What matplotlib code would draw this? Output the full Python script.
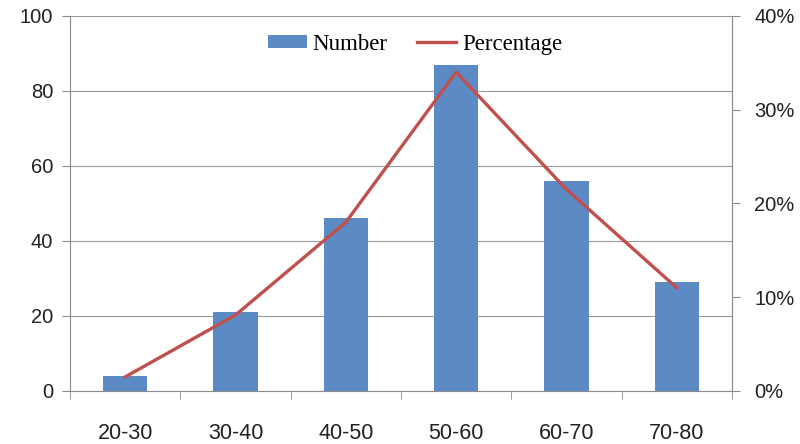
import matplotlib
matplotlib.use("Agg")
import matplotlib.pyplot as plt
import numpy as np
from matplotlib.ticker import FuncFormatter

# age groups, counts and their share
age_groups = ["20-30", "30-40", "40-50", "50-60", "60-70", "70-80"]
number = [4, 21, 46, 87, 56, 29]
percentage = [1.5, 8.1, 18.0, 34.0, 21.5, 11.0]

bar_color = "#5B8AC5"
line_color = "#C0504D"
axis_gray = "#8C8C8C"

fig = plt.figure(figsize=(8, 4.44), dpi=100)
ax = fig.add_axes([0.0875, 0.1194, 0.8275, 0.8446])
x = np.arange(len(age_groups))

ax.bar(x, number, width=0.4, color=bar_color, label="Number", zorder=2)
ax.set_xlim(-0.5, len(age_groups) - 0.5)
ax.set_ylim(0, 100)
ax.set_yticks(np.arange(0, 101, 20))
ax.grid(axis="y", color="#999999", linewidth=0.8, zorder=0)
ax.set_axisbelow(True)

# category labels in the middle, tick marks on the boundaries
ax.set_xticks(x)
ax.set_xticklabels(age_groups)
ax.set_xticks(np.arange(-0.5, len(age_groups), 1), minor=True)
ax.tick_params(axis="x", which="major", length=0, pad=23)
ax.tick_params(axis="x", which="minor", length=6, color=axis_gray, direction="out")
ax.tick_params(axis="y", length=6, color=axis_gray, pad=6)

for side in ["left", "bottom", "right"]:
    ax.spines[side].set_color(axis_gray)
ax.spines["top"].set_visible(False)

ax2 = ax.twinx()
ax2.plot(x, percentage, color=line_color, linewidth=2.4, label="Percentage", zorder=3)
ax2.set_ylim(0, 40)
ax2.set_yticks(np.arange(0, 41, 10))
ax2.yaxis.set_major_formatter(FuncFormatter(lambda v, p: f"{v:.0f}%"))
ax2.tick_params(axis="y", length=6, color=axis_gray, pad=10)
for side in ["left", "bottom", "right", "top"]:
    ax2.spines[side].set_visible(False)
ax2.spines["right"].set_visible(True)
ax2.spines["right"].set_color(axis_gray)

for lbl in ax.get_yticklabels() + ax2.get_yticklabels():
    lbl.set_fontfamily("Liberation Sans")
    lbl.set_fontsize(14.5)
    lbl.set_color("#222222")
for lbl in ax.get_xticklabels():
    lbl.set_fontfamily("Liberation Sans")
    lbl.set_fontsize(15.5)
    lbl.set_color("#222222")

h1, l1 = ax.get_legend_handles_labels()
h2, l2 = ax2.get_legend_handles_labels()
ax2.legend(h1 + h2, l1 + l2, loc="center", bbox_to_anchor=(0.521, 0.925), ncol=2,
           frameon=False, prop={"family": "Liberation Serif", "size": 16.5},
           handlelength=1.7, handleheight=0.55, handletextpad=0.25, columnspacing=1.3)

fig.savefig("out.png", dpi=100)
